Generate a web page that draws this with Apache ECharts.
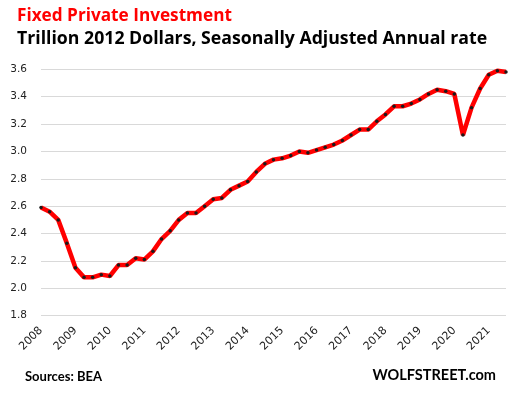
<!DOCTYPE html>
<html>
<head>
<meta charset="utf-8">
<script src="https://cdn.jsdelivr.net/npm/echarts@6/dist/echarts.min.js"></script>
<style>html,body{margin:0;padding:0;background:#fff;}#c{width:515px;height:397px;}</style>
</head>
<body>
<div id="c"></div>
<script>
// Data (trillion 2012 dollars, quarterly from 2008 Q1 to 2021 Q3)
var years = ['2008','2009','2010','2011','2012','2013','2014','2015','2016','2017','2018','2019','2020','2021'];
var quarters = ['Q1','Q2','Q3','Q4'];
var investment = [
  2.59, 2.56, 2.50, 2.33, 2.15, 2.08, 2.08, 2.10, 2.09, 2.17,
  2.17, 2.22, 2.21, 2.27, 2.36, 2.42, 2.50, 2.55, 2.55, 2.60,
  2.65, 2.66, 2.72, 2.75, 2.78, 2.85, 2.91, 2.94, 2.95, 2.97,
  3.00, 2.99, 3.01, 3.03, 3.05, 3.08, 3.12, 3.16, 3.16, 3.22,
  3.27, 3.33, 3.33, 3.35, 3.38, 3.42, 3.45, 3.44, 3.42, 3.12,
  3.32, 3.46, 3.56, 3.59, 3.58
];
var yTicks = ['1.8','2.0','2.2','2.4','2.6','2.8','3.0','3.2','3.4','3.6'];

var categories = [];
years.forEach(function(y){ quarters.forEach(function(q){ categories.push(y + ' ' + q); }); });
categories = categories.slice(0, investment.length);

var chart = echarts.init(document.getElementById('c'), null, {renderer:'canvas'});
chart.setOption({
  animation: false,
  backgroundColor: '#ffffff',
  grid: {left: 41, right: 9, top: 69.3, bottom: 81.3, containLabel: false},
  graphic: [
    {type:'text', left: 17, top: 8, style:{text:'Fixed Private Investment', fill:'#ff0000', font:'bold 17.2px "Open Sans"'}},
    {type:'text', left: 17, top: 29.5, style:{text:'Trillion 2012 Dollars, Seasonally Adjusted Annual rate', fill:'#000000', font:'bold 17.7px "Open Sans"'}},
    {type:'text', left: 25, top: 370, style:{text:'Sources: BEA', fill:'#000000', font:'bold 13px Lato'}},
    {type:'text', right: 19, top: 368, style:{text:'WOLFSTREET.com', fill:'#000000', font:'bold 14.5px Lato'}}
  ],
  xAxis: {
    type: 'category',
    data: categories,
    boundaryGap: false,
    axisLine: {show: false},
    axisTick: {show: false},
    splitLine: {show: false},
    axisLabel: {
      interval: function(i){ return i % 4 === 0; },
      formatter: function(v){ return v.split(' ')[0]; },
      rotate: 45,
      margin: 13,
      color: '#222222',
      fontFamily: 'DejaVu Sans',
      fontSize: 11
    }
  },
  yAxis: {
    type: 'value',
    min: 1.8,
    max: 3.6,
    interval: 0.2,
    axisLine: {show: false},
    axisTick: {show: false},
    splitLine: {lineStyle: {color: '#d9d9d9', width: 1}},
    axisLabel: {
      margin: 14,
      color: '#222222',
      fontFamily: 'DejaVu Sans',
      fontSize: 10.5,
      formatter: function(v){ return v.toFixed(1); }
    }
  },
  series: [{
    type: 'line',
    data: investment,
    lineStyle: {color: '#ff0000', width: 4.5},
    symbol: 'circle',
    symbolSize: 3.5,
    showSymbol: true,
    itemStyle: {color: '#1a1a1a', borderWidth: 0},
    z: 3
  }]
});
</script>
</body>
</html>
